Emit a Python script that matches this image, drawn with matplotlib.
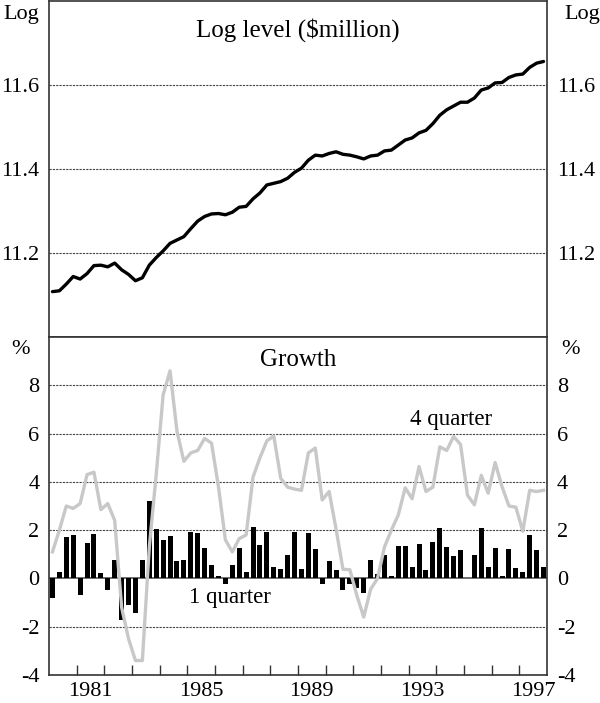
import matplotlib
matplotlib.use("Agg")
import matplotlib.pyplot as plt
import numpy as np
import pandas as pd

plt.rcParams["font.family"] = ["Liberation Serif", "DejaVu Serif"]

# quarterly data, 1980Q1 to 1997Q4
quarters = pd.period_range("1980Q1", "1997Q4", freq="Q")

log_level = [
    11.108, 11.110, 11.126, 11.144, 11.138, 11.151, 11.170, 11.171,
    11.167, 11.176, 11.160, 11.149, 11.134, 11.141, 11.171, 11.189,
    11.205, 11.223, 11.231, 11.239, 11.258, 11.276, 11.287, 11.293,
    11.294, 11.291, 11.297, 11.309, 11.311, 11.329, 11.343, 11.362,
    11.366, 11.370, 11.378, 11.392, 11.402, 11.421, 11.433, 11.431,
    11.437, 11.441, 11.435, 11.433, 11.429, 11.424, 11.431, 11.433,
    11.443, 11.445, 11.457, 11.469, 11.474, 11.486, 11.492, 11.508,
    11.528, 11.541, 11.550, 11.559, 11.559, 11.569, 11.588, 11.593,
    11.605, 11.606, 11.618, 11.624, 11.626, 11.642, 11.652, 11.656,
]

growth_1q = [
    -0.83, 0.28, 1.70, 1.78, -0.68, 1.45, 1.86, 0.23,
    -0.46, 0.77, -1.72, -1.10, -1.43, 0.77, 3.21, 2.03,
    1.61, 1.74, 0.74, 0.77, 1.94, 1.88, 1.24, 0.57,
    0.10, -0.25, 0.55, 1.24, 0.28, 2.11, 1.37, 1.94,
    0.48, 0.37, 0.98, 1.94, 0.37, 1.90, 1.20, -0.22,
    0.74, 0.33, -0.47, -0.22, -0.41, -0.59, 0.77, 0.20,
    0.97, 0.10, 1.36, 1.36, 0.47, 1.44, 0.35, 1.52,
    2.10, 1.31, 0.94, 1.19, 0.00, 0.97, 2.10, 0.48,
    1.26, 0.10, 1.20, 0.42, 0.28, 1.78, 1.16, 0.48,
]

growth_4q = [
    1.1, 2.0, 3.0, 2.9, 3.1, 4.3, 4.4, 2.85,
    3.1, 2.4, -1.2, -2.5, -3.4, -3.4, 1.3, 4.3,
    7.6, 8.6, 6.1, 4.85, 5.2, 5.3, 5.8, 5.6,
    3.8, 1.6, 1.1, 1.65, 1.8, 4.2, 5.0, 5.7,
    5.9, 4.15, 3.78, 3.7, 3.65, 5.2, 5.4, 3.25,
    3.6, 2.05, 0.38, 0.36, -0.7, -1.6, -0.45, 0.0,
    1.3, 2.0, 2.63, 3.75, 3.3, 4.63, 3.6, 3.78,
    5.45, 5.3, 5.88, 5.55, 3.45, 3.05, 4.27, 3.53,
    4.8, 3.8, 3.0, 2.95, 1.95, 3.65, 3.6, 3.65,
]

year_labels = [1981, 1985, 1989, 1993, 1997]

x = np.array([q.year + (q.quarter - 0.5) / 4 for q in quarters])

FS = 16
TITLE_FS = 18
GRID = dict(color="#444444", linestyle=(0, (2, 1)), linewidth=0.8)

fig = plt.figure(figsize=(6.0, 7.03), dpi=100)
left, width = 49 / 600, 498 / 600
ax1 = fig.add_axes([left, 1 - 337 / 703, width, 336 / 703])
ax2 = fig.add_axes([left, 1 - 675 / 703, width, 338 / 703])

for ax in (ax1, ax2):
    ax.set_xlim(1980, 1998)
    for s in ax.spines.values():
        s.set_color("#333333")
        s.set_linewidth(1.2)
    ax.tick_params(axis="y", length=0, labelsize=FS, labelleft=True,
                   labelright=True, pad=7)

# top panel: log level
ax1.plot(x, log_level, color="black", linewidth=2.4, solid_capstyle="round")
ax1.set_ylim(11.0, 11.8)
ax1.set_yticks([11.2, 11.4, 11.6])
ax1.set_yticklabels(["11.2", "11.4", "11.6"])
for v in [11.2, 11.4, 11.6]:
    ax1.axhline(v, zorder=0, **GRID)
ax1.set_xticks([])
ax1.text(0.5, 0.915, "Log level ($million)", transform=ax1.transAxes,
         ha="center", va="center", fontsize=TITLE_FS)

# bottom panel: growth
ax2.bar(x, growth_1q, width=0.18, color="black", zorder=2)
ax2.plot(x, growth_4q, color="#c8c8c8", linewidth=2.4, zorder=3)
ax2.axhline(0, color="#555555", linewidth=1.2, zorder=1)
for v in [-2, 2, 4, 6, 8]:
    ax2.axhline(v, zorder=0, **GRID)
ax2.set_ylim(-4, 10)
ax2.set_yticks([-4, -2, 0, 2, 4, 6, 8])
ax2.set_yticklabels(["-4", "-2", "0", "2", "4", "6", "8"])

ax2.set_xticks(range(1981, 1998))
ax2.set_xticklabels([])
ax2.tick_params(axis="x", which="major", direction="in", length=7,
                color="#333333", width=1)
ax2.set_xticks([y + 0.5 for y in year_labels], minor=True)
ax2.set_xticklabels([str(y) for y in year_labels], minor=True)
ax2.tick_params(axis="x", which="minor", length=0, labelsize=FS, pad=5)

ax2.text(0.5, 9.05, "Growth", transform=ax2.get_yaxis_transform(),
         ha="center", va="center", fontsize=TITLE_FS)
ax2.text(1994.55, 6.6, "4 quarter", ha="center", va="center", fontsize=16.5)
ax2.text(1986.55, -0.8, "1 quarter", ha="center", va="center", fontsize=16.5)

# unit labels outside the panels
fig.text(21 / 600, 1 - 15 / 703, "Log", ha="center", va="center", fontsize=FS)
fig.text(582 / 600, 1 - 15 / 703, "Log", ha="center", va="center", fontsize=FS)
fig.text(20 / 600, 1 - 350 / 703, "%", ha="center", va="center", fontsize=FS)
fig.text(570 / 600, 1 - 350 / 703, "%", ha="center", va="center", fontsize=FS)

fig.savefig("out.png", dpi=100)
